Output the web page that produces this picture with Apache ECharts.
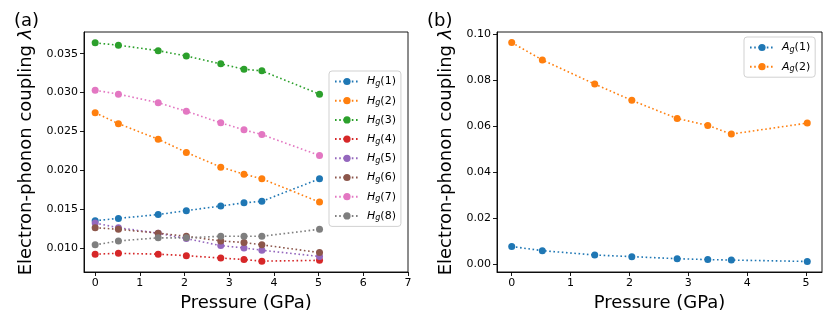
<!DOCTYPE html>
<html>
<head>
<meta charset="utf-8">
<script src="https://cdn.jsdelivr.net/npm/echarts@6/dist/echarts.min.js"></script>
<style>
  html, body { margin: 0; padding: 0; background: #fff; }
  #main { width: 830px; height: 322px; }
</style>
</head>
<body>
<div id="main"></div>
<script>
// pressure points (GPa)
const pressure = [0, 0.52, 1.41, 2.04, 2.81, 3.33, 3.73, 5.02]

// panel (a): Hg modes
const hgNames = ['Hg(1)', 'Hg(2)', 'Hg(3)', 'Hg(4)', 'Hg(5)', 'Hg(6)', 'Hg(7)', 'Hg(8)']
const hg1 = [0.0135, 0.0138, 0.0143, 0.0148, 0.0154, 0.0158, 0.0160, 0.0189]
const hg2 = [0.0274, 0.0260, 0.0240, 0.0223, 0.0204, 0.0195, 0.0189, 0.0159]
const hg3 = [0.0364, 0.0361, 0.0354, 0.0347, 0.0337, 0.0330, 0.0328, 0.0298]
const hg4 = [0.0092, 0.0093, 0.0092, 0.0090, 0.0087, 0.0085, 0.0083, 0.0084]
const hg5 = [0.0132, 0.0126, 0.0119, 0.0112, 0.0103, 0.0100, 0.0097, 0.0089]
const hg6 = [0.0126, 0.0124, 0.0119, 0.0115, 0.0109, 0.0107, 0.0104, 0.0094]
const hg7 = [0.0303, 0.0298, 0.0287, 0.0276, 0.0261, 0.0252, 0.0246, 0.0219]
const hg8 = [0.0104, 0.0109, 0.0113, 0.0113, 0.0115, 0.0115, 0.0115, 0.0124]

// panel (b): Ag modes
const agNames = ['Ag(1)', 'Ag(2)']
const ag1 = [0.0076, 0.0058, 0.0039, 0.0032, 0.0023, 0.0019, 0.0017, 0.0011]
const ag2 = [0.0965, 0.0889, 0.0784, 0.0713, 0.0634, 0.0604, 0.0566, 0.0614]

// tick labels
const xTicksA = [0, 1, 2, 3, 4, 5, 6, 7]
const yTicksA = [0.010, 0.015, 0.020, 0.025, 0.030, 0.035]
const xTicksB = [0, 1, 2, 3, 4, 5]
const yTicksB = [0.00, 0.02, 0.04, 0.06, 0.08, 0.10]

const colors = ['#1f77b4', '#ff7f0e', '#2ca02c', '#d62728', '#9467bd', '#8c564b', '#e377c2', '#7f7f7f']
const font = 'DejaVu Sans'

const myChart = echarts.init(document.getElementById('main'), null, { renderer: 'canvas' })

const pairs = (ys) => pressure.map((x, i) => [x, ys[i]])

const makeSeries = (name, ys, color, xi) => ({
  name: name,
  type: 'line',
  xAxisIndex: xi,
  yAxisIndex: xi,
  data: pairs(ys),
  symbol: 'circle',
  symbolSize: 7,
  itemStyle: { color: color },
  lineStyle: { color: color, width: 1.6, type: [1.6, 2.6], cap: 'butt' },
  emphasis: { disabled: true },
  animation: false,
})

// legend label like H_g(1), with italic H and subscript g
const legendRich = {
  i: { fontFamily: font, fontSize: 11, fontStyle: 'italic', color: '#000', lineHeight: 14, padding: [0, 0, 0, 3] },
  s: { fontFamily: font, fontSize: 8, fontStyle: 'italic', color: '#000', lineHeight: 14, padding: [5, 0, 0, 0] },
  n: { fontFamily: font, fontSize: 11, color: '#000', lineHeight: 14 },
}
const legendFormat = (name) => `{i|${name[0]}}{s|g}{n|${name.slice(2)}}`

const axisCommon = {
  axisLine: { show: true, onZero: false, lineStyle: { color: '#000', width: 0.9 } },
  axisTick: { show: true, length: 4, lineStyle: { color: '#000', width: 0.9 } },
  splitLine: { show: false },
}

const xAxis = (min, max, ticks, gridIndex) => ({
  type: 'value',
  gridIndex: gridIndex,
  min: min,
  max: max,
  name: 'Pressure (GPa)',
  nameLocation: 'middle',
  nameGap: 21,
  nameTextStyle: { fontFamily: font, fontSize: 18, color: '#000' },
  ...axisCommon,
  axisTick: { ...axisCommon.axisTick, customValues: ticks },
  axisLabel: { customValues: ticks, margin: 6, fontFamily: font, fontSize: 11, color: '#000', formatter: v => String(Math.round(v)) },
})

const yAxis = (min, max, ticks, gridIndex, digits, gap) => ({
  type: 'value',
  gridIndex: gridIndex,
  min: min,
  max: max,
  name: '{t|Electron-phonon coupling }{l|λ}',
  nameLocation: 'middle',
  nameGap: gap,
  nameTextStyle: {
    fontFamily: font, fontSize: 18, color: '#000',
    rich: {
      t: { fontFamily: font, fontSize: 18, color: '#000' },
      l: { fontFamily: font, fontSize: 18, fontStyle: 'italic', color: '#000' },
    },
  },
  ...axisCommon,
  axisTick: { ...axisCommon.axisTick, customValues: ticks },
  axisLabel: { customValues: ticks, margin: 6, fontFamily: font, fontSize: 11, color: '#000', formatter: v => v.toFixed(digits) },
})

const legendBox = {
  orient: 'vertical',
  padding: [4, 5, 4, 5],
  itemWidth: 24,
  itemHeight: 9,
  itemGap: 6.2,
  backgroundColor: 'rgba(255,255,255,0.8)',
  borderColor: '#cccccc',
  borderWidth: 0.9,
  borderRadius: 3,
  formatter: legendFormat,
  textStyle: { rich: legendRich },
}

myChart.setOption({
  backgroundColor: '#fff',
  animation: false,
  title: [
    { text: '(a)', left: 9, top: 7, textStyle: { fontFamily: font, fontSize: 18, fontWeight: 'normal', color: '#000' } },
    { text: '(b)', left: 422, top: 7, textStyle: { fontFamily: font, fontSize: 18, fontWeight: 'normal', color: '#000' } },
  ],
  grid: [
    { left: 84, top: 32, width: 324, height: 240, show: true, borderColor: '#000', borderWidth: 0.9, backgroundColor: 'transparent' },
    { left: 497, top: 32, width: 325, height: 240, show: true, borderColor: '#000', borderWidth: 0.9, backgroundColor: 'transparent' },
  ],
  legend: [
    { ...legendBox, data: hgNames, left: 329, top: 71 },
    { ...legendBox, data: agNames, left: 744, top: 37 },
  ],
  xAxis: [
    xAxis(-0.25, 7, xTicksA, 0),
    xAxis(-0.25, 5.27, xTicksB, 1),
  ],
  yAxis: [
    yAxis(0.0069, 0.0378, yTicksA, 0, 3, 49),
    yAxis(-0.0035, 0.1011, yTicksB, 1, 2, 42),
  ],
  series: [
    makeSeries(hgNames[0], hg1, colors[0], 0),
    makeSeries(hgNames[1], hg2, colors[1], 0),
    makeSeries(hgNames[2], hg3, colors[2], 0),
    makeSeries(hgNames[3], hg4, colors[3], 0),
    makeSeries(hgNames[4], hg5, colors[4], 0),
    makeSeries(hgNames[5], hg6, colors[5], 0),
    makeSeries(hgNames[6], hg7, colors[6], 0),
    makeSeries(hgNames[7], hg8, colors[7], 0),
    makeSeries(agNames[0], ag1, colors[0], 1),
    makeSeries(agNames[1], ag2, colors[1], 1),
  ],
})
</script>
</body>
</html>
